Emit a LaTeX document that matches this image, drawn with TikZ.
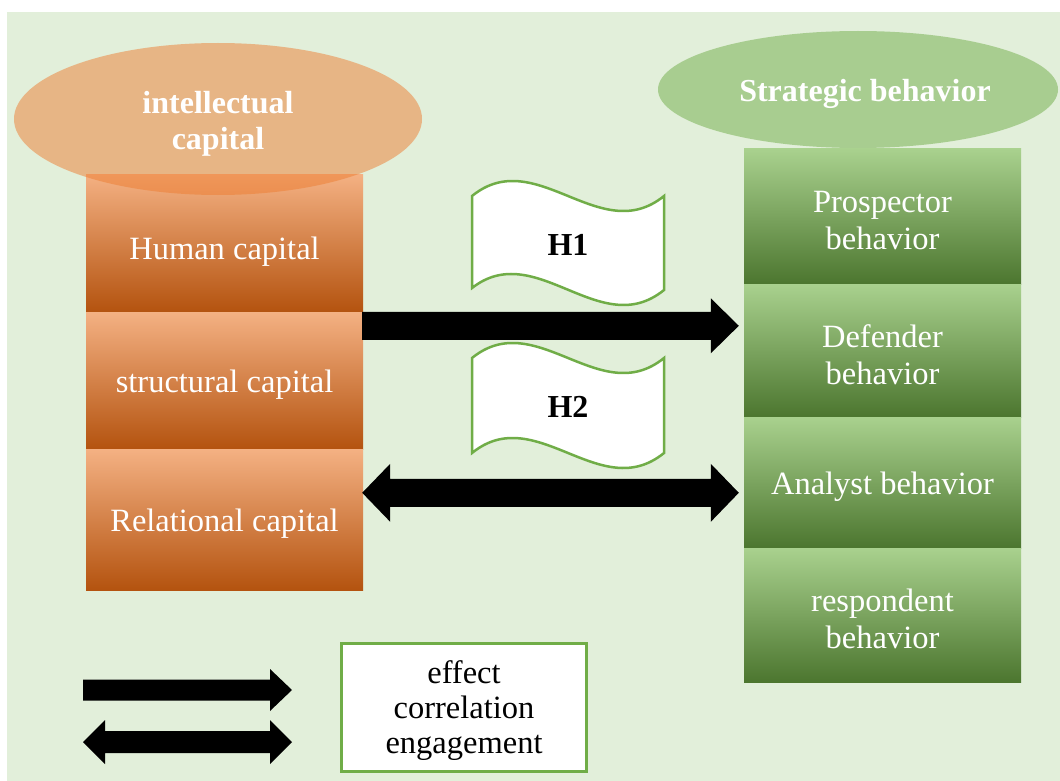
\documentclass[tikz,border=0pt]{standalone}
\usepackage{fontspec}
\setmainfont{Liberation Serif}
\usetikzlibrary{calc,shapes.geometric}

\definecolor{paneBg}{HTML}{E2EFDA}
\definecolor{accOrange}{HTML}{ED7D31}
\definecolor{accGreen}{HTML}{70AD47}
\definecolor{orTop}{HTML}{F4B183}
\definecolor{orMid}{HTML}{EE7F33}
\definecolor{orBot}{HTML}{B4530F}
\definecolor{grTop}{HTML}{A9D18E}
\definecolor{grMid}{HTML}{72AE48}
\definecolor{grBot}{HTML}{4C762F}

% fat block arrow: start, tip, shaft half height, head half height, head length
\newcommand{\fatone}[5]{%
  \fill ($(#1)+(0,-#3)$) -- ($(#2)+(-#5,-#3)$) -- ($(#2)+(-#5,-#4)$) -- (#2)
    -- ($(#2)+(-#5,#4)$) -- ($(#2)+(-#5,#3)$) -- ($(#1)+(0,#3)$) -- cycle;}
% fat block arrow with a head at both ends
\newcommand{\fattwo}[5]{%
  \fill (#1) -- ($(#1)+(#5,-#4)$) -- ($(#1)+(#5,-#3)$) -- ($(#2)+(-#5,-#3)$)
    -- ($(#2)+(-#5,-#4)$) -- (#2) -- ($(#2)+(-#5,#4)$) -- ($(#2)+(-#5,#3)$)
    -- ($(#1)+(#5,#3)$) -- ($(#1)+(#5,#4)$) -- cycle;}

\tikzset{
  capbox/.style={draw=none, inner sep=0pt, minimum width=277pt, minimum height=#1,
    top color=orTop, middle color=orMid, bottom color=orBot},
  behbox/.style={draw=none, inner sep=0pt, minimum width=277pt, minimum height=#1,
    top color=grTop, middle color=grMid, bottom color=grBot},
  boxtext/.style={text=white, inner sep=0pt, align=center,
    font=\fontsize{32.5pt}{37pt}\selectfont},
  headtext/.style={text=white, inner sep=0pt, align=center,
    font=\bfseries\fontsize{32pt}{36pt}\selectfont},
  hyptext/.style={text=black, inner sep=0pt, anchor=base,
    font=\bfseries\fontsize{32pt}{36pt}\selectfont},
  wave/.style={draw=accGreen, line width=2.5pt, fill=white},
  cloud/.style={ellipse, draw=none, inner sep=0pt, fill opacity=0.5},
}

\begin{document}
\begin{tikzpicture}[x=1pt, y=-1pt]
  \useasboundingbox (0,0) rectangle (1060,781);
  \fill[paneBg] (7,12) rectangle (1060,781);

  % intellectual capital column
  \node[capbox=138pt] (human)  at (224.5,243)   {};
  \node[capbox=137pt] (struct) at (224.5,380.5) {};
  \node[capbox=141pt] (rel)    at (224.5,519.5) {};
  \node[cloud, fill=accOrange, minimum width=408pt, minimum height=152pt] (ic) at (218,119) {};
  \node[headtext] (icT) at (218,124) {intellectual\\capital};
  \node[boxtext, yshift=-9pt] (humanT)  at (human)  {Human capital};
  \node[boxtext, yshift=-4pt] (structT) at (struct) {structural capital};
  \node[boxtext, yshift=-4pt] (relT)    at (rel)    {Relational capital};

  % strategic behavior column
  \node[behbox=135pt] (prosp)    at (882.5,216.5) {};
  \node[behbox=133pt] (defender) at (882.5,350.5) {};
  \node[behbox=131pt] (analyst)  at (882.5,482.5) {};
  \node[behbox=134pt] (respond)  at (882.5,615)   {};
  \node[cloud, fill=accGreen, minimum width=400pt, minimum height=117pt] (sb) at (858,89.5) {};
  \node[headtext, anchor=base] (sbT) at (865,102) {Strategic behavior};
  \node[boxtext, yshift=-4pt] (prospT)    at (prosp)    {Prospector\\behavior};
  \node[boxtext, yshift=-4pt] (defenderT) at (defender) {Defender\\behavior};
  \node[boxtext, yshift=-4pt] (analystT)  at (analyst)  {Analyst behavior};
  \node[boxtext, yshift=-4pt] (respondT)  at (respond)  {respondent\\behavior};

  % hypothesis flags
  \draw[wave] (472,196) .. controls (536,144) and (600,248) .. (664,196)
    -- (664,290) .. controls (600,342) and (536,238) .. (472,288) -- cycle;
  \node[hyptext] (h1T) at (568,255) {H1};
  \draw[wave] (472,358) .. controls (536,306) and (600,410) .. (664,358)
    -- (664,453) .. controls (600,505) and (536,401) .. (472,453) -- cycle;
  \node[hyptext] (h2T) at (568,417) {H2};

  % connectors between the columns
  \coordinate (h1s) at ($(struct.north east)+(-1,14)$);
  \coordinate (h1e) at ($(defender.west |- h1s)+(-5,0)$);
  \fatone{h1s}{h1e}{14}{27.5}{28}
  \coordinate (h2s) at ($(rel.north east)+(-1,44)$);
  \coordinate (h2e) at ($(analyst.west |- h2s)+(-5,0)$);
  \fattwo{h2s}{h2e}{14}{29}{28}

  % legend
  \coordinate (l1s) at (83,690);
  \coordinate (l1e) at (292,690);
  \fatone{l1s}{l1e}{10.5}{21}{22}
  \coordinate (l2s) at (83,742);
  \coordinate (l2e) at (292,742);
  \fattwo{l2s}{l2e}{11}{22}{22}
  \node[draw=accGreen, line width=2.5pt, fill=white, inner sep=0pt,
        minimum width=245pt, minimum height=128pt] (legend) at (464,707.5) {};
  \node[text=black, inner sep=0pt, align=center,
        font=\fontsize{32.5pt}{35pt}\selectfont] (legendT) at (464,710.5)
        {effect\\correlation\\engagement};
\end{tikzpicture}
\end{document}
